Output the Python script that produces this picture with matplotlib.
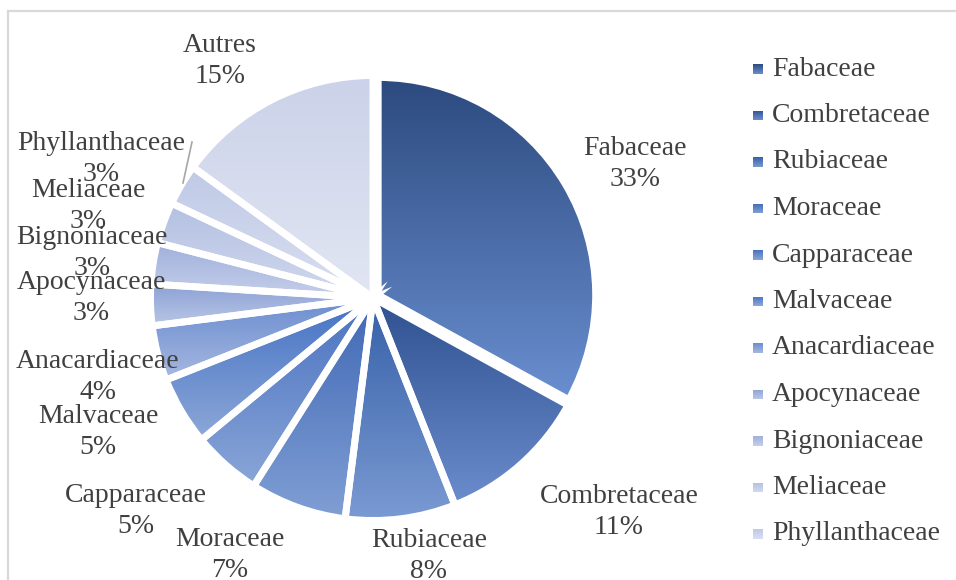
import numpy as np
import matplotlib
matplotlib.use("Agg")
import matplotlib.pyplot as plt
from matplotlib.colors import to_rgb
from matplotlib.patches import Rectangle
from matplotlib.lines import Line2D

# Family shares (%)
families = ["Fabaceae", "Combretaceae", "Rubiaceae", "Moraceae", "Capparaceae",
            "Malvaceae", "Anacardiaceae", "Apocynaceae", "Bignoniaceae",
            "Meliaceae", "Phyllanthaceae", "Autres"]
shares = [33, 11, 8, 7, 5, 5, 4, 3, 3, 3, 3, 15]
legend_families = families[:11]

# Gradient colours per slice (top, bottom)
grad_top = ["#2c4a7f", "#2f5190", "#3660a8", "#4068b5", "#4a72c0", "#4472c4",
            "#6a8dd0", "#8ca2d6", "#a0b0dc", "#b3c0e2", "#bfc9e6", "#cbd2e9"]
grad_bot = ["#6a8fd0", "#6b8dcd", "#7a9ad2", "#809fd4", "#8aa6d8", "#8ea8d8",
            "#a7b8e0", "#bac6e5", "#c6cfea", "#d2d9ee", "#dae0f1", "#e2e6f3"]

# Label anchor positions in pixels (x, y from top)
label_px = [(635, 164), (619, 512), (429, 556), (230, 555), (136, 511),
            (98, 432), (98, 377), (91, 298), (92, 253), (88, 206),
            (101, 159), (220, 61)]

W, H = 956, 580
fig = plt.figure(figsize=(W / 100, H / 100), dpi=100)
ax = fig.add_axes([0, 0, 1, 1])

font = ["Liberation Serif", "DejaVu Serif"]
txt_color = "#404040"

# Pie geometry in pixel units (y measured upward)
cx, cy, R = 373, H - 298, 222.5
explode = [6] + [0] * (len(shares) - 1)
wedges, _ = ax.pie(shares, radius=R, center=(cx, cy), startangle=90,
                   counterclock=False, explode=explode, frame=True,
                   wedgeprops=dict(facecolor="none", edgecolor="white",
                                   linewidth=5, zorder=3))
# the pulled-out slice is drawn slightly smaller
wedges[0].set_radius(R - 5)


def gradient_image(top, bot, n=256):
    t = np.linspace(0, 1, n)[:, None]
    c0, c1 = np.array(to_rgb(top)), np.array(to_rgb(bot))
    img = c0[None, None, :] * (1 - t[..., None]) + c1[None, None, :] * t[..., None]
    return np.repeat(img, 2, axis=1)


for w, top, bot in zip(wedges, grad_top, grad_bot):
    bb = w.get_path().get_extents(w.get_patch_transform())
    im = ax.imshow(gradient_image(top, bot), extent=(bb.x0, bb.x1, bb.y0, bb.y1),
                   origin="upper", aspect="auto", zorder=2, interpolation="bilinear")
    im.set_clip_path(w)

# Data labels
for name, val, (px, py) in zip(families, shares, label_px):
    ax.text(px, H - py, f"{name}\n{val}%", ha="center", va="center",
            fontsize=20, family=font, color=txt_color, linespacing=1.3, zorder=5)

# Leader line for Phyllanthaceae
ax.add_line(Line2D([192, 183], [H - 142, H - 183], color="#a6a6a6", lw=1.2, zorder=4))

# Legend
for i, name in enumerate(legend_families):
    y = H - (69 + i * 46.5)
    sq = Rectangle((753, y - 5), 10, 10, zorder=4, facecolor="none", edgecolor="none")
    ax.add_patch(sq)
    im = ax.imshow(gradient_image(grad_top[i], grad_bot[i]),
                   extent=(753, 763, y - 5, y + 5), origin="upper",
                   aspect="auto", zorder=4)
    im.set_clip_path(sq)
    ax.text(772, y, name, ha="left", va="center", fontsize=20, family=font,
            color=txt_color, zorder=5)

ax.set_xlim(0, W)
ax.set_ylim(0, H)
ax.set_aspect("equal")
ax.axis("off")

# Chart frame (top and left edges)
fig.add_artist(Line2D([8 / W, 1], [1 - 11 / H, 1 - 11 / H], color="#d9d9d9", lw=1.6))
fig.add_artist(Line2D([8 / W, 8 / W], [0, 1 - 11 / H], color="#d9d9d9", lw=1.6))

fig.savefig("out.png", dpi=100)
